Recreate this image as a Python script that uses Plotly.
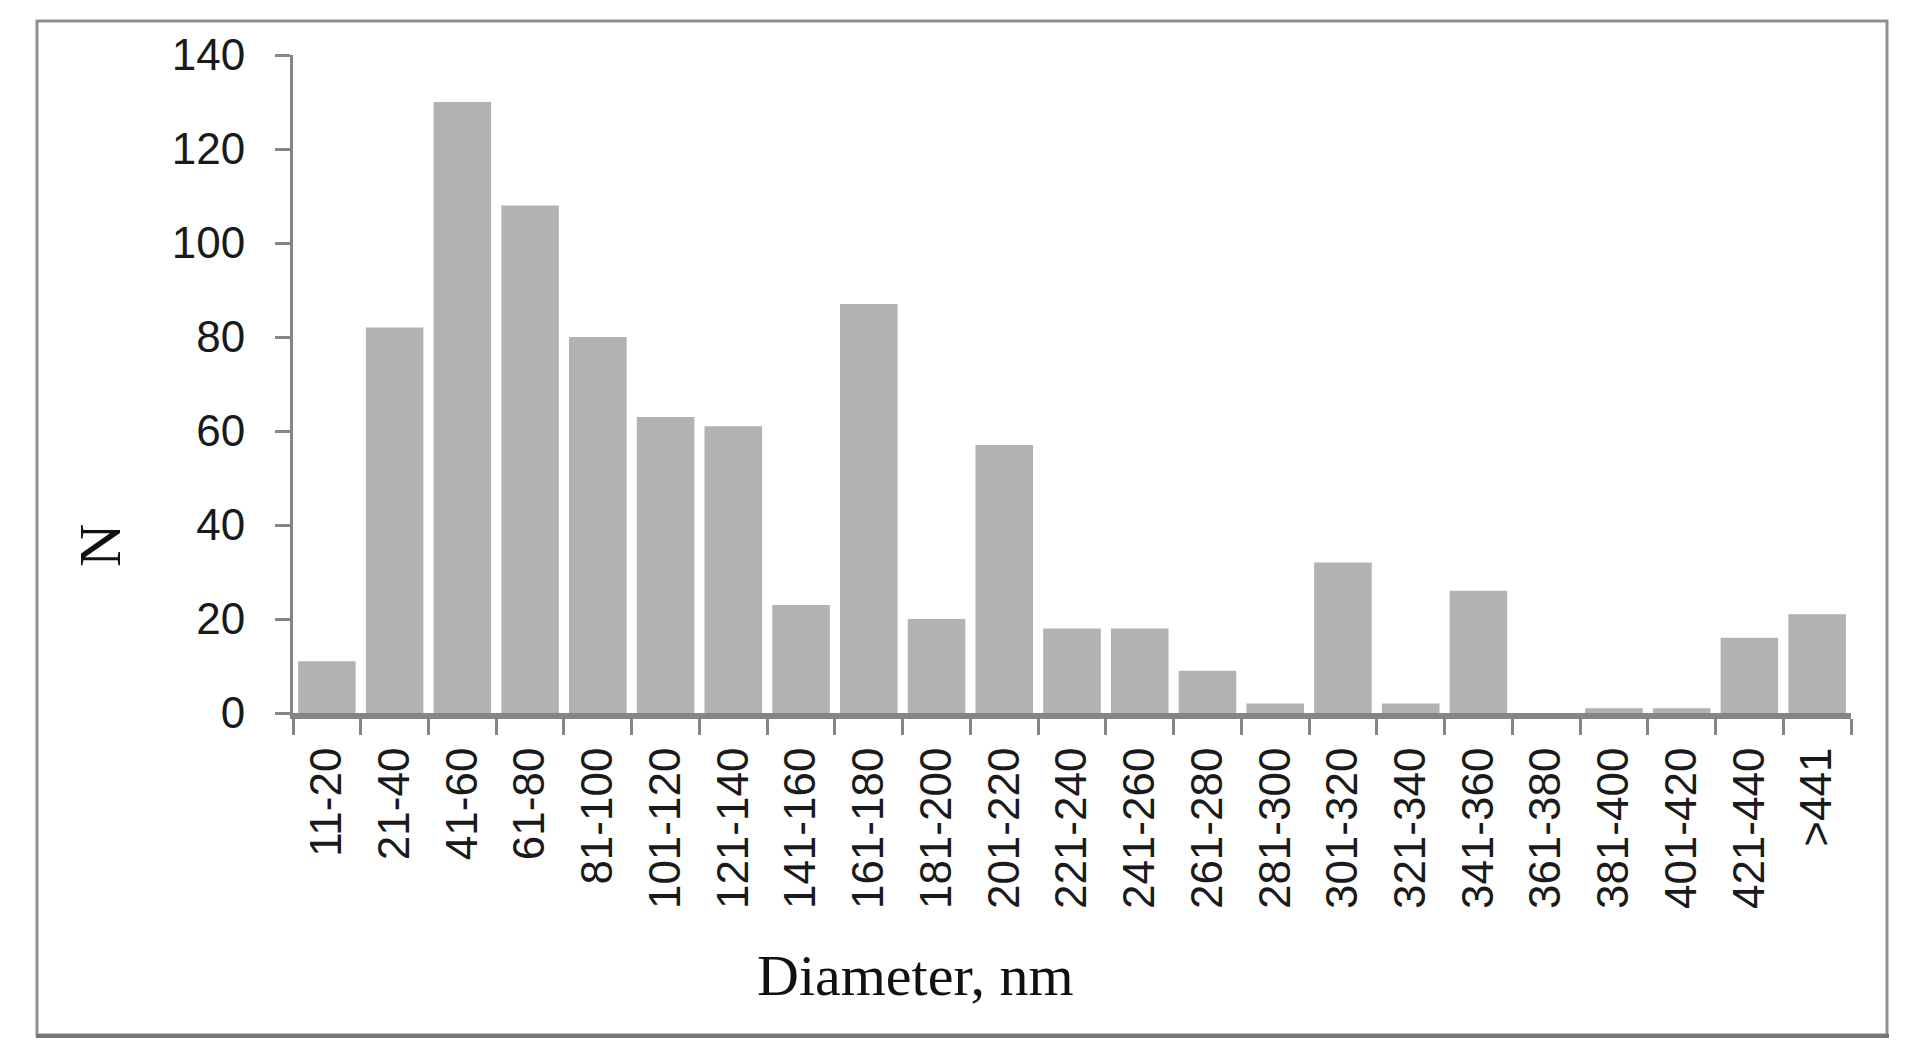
import plotly.graph_objects as go

# size bins and counts
diameter_bins = ["11-20", "21-40", "41-60", "61-80", "81-100", "101-120", "121-140",
                 "141-160", "161-180", "181-200", "201-220", "221-240", "241-260",
                 "261-280", "281-300", "301-320", "321-340", "341-360", "361-380",
                 "381-400", "401-420", "421-440", ">441"]
counts = [11, 82, 130, 108, 80, 63, 61, 23, 87, 20, 57, 18, 18, 9, 2, 32, 2, 26,
          0, 1, 1, 16, 21]

y_ticks = [0, 20, 40, 60, 80, 100, 120, 140]

# the html page has an 8px body margin, so work in page pixels and shift
OFF = 8
W, H = 1919 - OFF, 1050 - OFF
# plot area in page pixels
left, right, top, bottom = 293, 1851, 55, 713


def px(x):
    return (x - left) / (right - left)


def py(y):
    return (bottom - y) / (bottom - top)


fig = go.Figure()
fig.add_trace(go.Bar(
    x=diameter_bins,
    y=counts,
    marker=dict(color="#b2b2b2", line=dict(width=0)),
    showlegend=False,
))

axis_col = "#858585"
fig.update_layout(
    width=W, height=H,
    margin=dict(l=left - OFF, r=W - (right - OFF), t=top - OFF, b=H - (bottom - OFF), pad=0),
    plot_bgcolor="white",
    paper_bgcolor="white",
    bargap=0.15,
    xaxis=dict(
        type="category",
        tickangle=-90,
        tickson="boundaries",
        ticks="outside", ticklen=16, tickwidth=3, tickcolor=axis_col,
        showline=True, linewidth=6, linecolor=axis_col,
        showgrid=False, zeroline=False,
        ticklabelstandoff=11,
        tickfont=dict(family="Liberation Sans", size=44, color="#1a1a1a"),
    ),
    yaxis=dict(
        range=[0, 140],
        tickvals=y_ticks,
        ticks="outside", ticklen=15, tickwidth=3, tickcolor=axis_col,
        showline=True, linewidth=3, linecolor=axis_col,
        showgrid=False, zeroline=False,
        ticklabelstandoff=21,
        tickfont=dict(family="Liberation Sans", size=44, color="#1a1a1a"),
    ),
    annotations=[
        dict(text="Diameter, nm", x=px(915), y=py(975), xref="paper", yref="paper",
             xanchor="center", yanchor="middle", showarrow=False,
             font=dict(family="Liberation Serif", size=58, color="#111111")),
        dict(text="N", x=px(100), y=py(546), xref="paper", yref="paper",
             xanchor="center", yanchor="middle", showarrow=False, textangle=-90,
             font=dict(family="Liberation Serif", size=60, color="#111111")),
    ],
    shapes=[
        # outer frame, bottom edge heavier like a drop shadow
        dict(type="rect", xref="paper", yref="paper",
             x0=px(37), x1=px(1887), y0=py(1035), y1=py(21),
             line=dict(color="#8f8f8f", width=3), layer="below"),
        dict(type="line", xref="paper", yref="paper",
             x0=px(36), x1=px(1889), y0=py(1036), y1=py(1036),
             line=dict(color="#777777", width=4), layer="below"),
    ],
)

fig.write_html("out.html")
